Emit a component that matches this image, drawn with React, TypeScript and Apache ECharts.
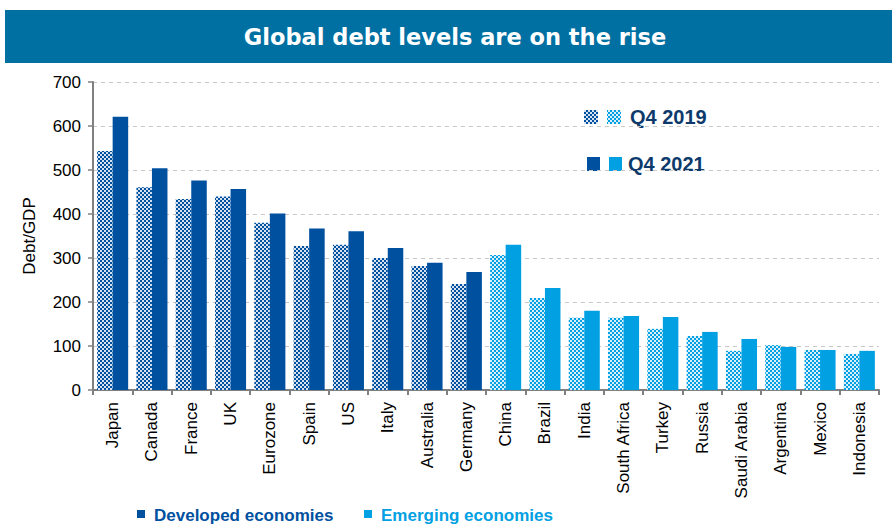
import React, { useEffect, useRef } from "react";
import * as echarts from "echarts";

const categories = [
  "Japan", "Canada", "France", "UK", "Eurozone", "Spain", "US", "Italy", "Australia", "Germany",
  "China", "Brazil", "India", "South Africa", "Turkey", "Russia", "Saudi Arabia", "Argentina", "Mexico", "Indonesia",
];
const developed = ["Japan", "Canada", "France", "UK", "Eurozone", "Spain", "US", "Italy", "Australia", "Germany"];
const q4_2019 = [543, 461, 434, 440, 380, 327, 330, 300, 282, 241, 307, 209, 164, 164, 139, 123, 89, 102, 91, 82];
const q4_2021 = [621, 504, 476, 457, 401, 367, 361, 323, 289, 268, 330, 232, 180, 168, 166, 132, 116, 98, 91, 89];
const yTicks = [0, 100, 200, 300, 400, 500, 600, 700];

const DEV = "#0050A0";
const EMG = "#00A0E2";
const SANS = "'Liberation Sans', Arial, sans-serif";

function makePattern(fg: string, bg: string) {
  const c = document.createElement("canvas");
  c.width = 4;
  c.height = 4;
  const ctx = c.getContext("2d")!;
  ctx.fillStyle = bg;
  ctx.fillRect(0, 0, 4, 4);
  ctx.fillStyle = fg;
  ctx.fillRect(0, 0, 2, 2);
  ctx.fillRect(2, 2, 2, 2);
  return { image: c, repeat: "repeat" } as any;
}

export default function App() {
  const ref = useRef<HTMLDivElement>(null);
  useEffect(() => {
    if (!ref.current) return;
    const chart = echarts.init(ref.current, undefined, { renderer: "svg" });
    const devPat = makePattern(DEV, "#d6e2f0");
    const emgPat = makePattern(EMG, "#d9f0fa");
    const isDev = (c: string) => developed.includes(c);

    chart.setOption({
      animation: false,
      grid: { left: 93, right: 13, top: 82, bottom: 134, containLabel: false },
      xAxis: {
        type: "category",
        data: categories,
        axisLine: { lineStyle: { color: "#808080", width: 2 } },
        axisTick: { show: true, length: 5, lineStyle: { color: "#808080", width: 2 } },
        axisLabel: {
          rotate: 90,
          margin: 12,
          color: "#000",
          fontSize: 17,
          fontFamily: SANS,
          interval: 0,
        },
      },
      yAxis: {
        type: "value",
        min: yTicks[0],
        max: yTicks[yTicks.length - 1],
        interval: 100,
        name: "Debt/GDP",
        nameLocation: "middle",
        nameGap: 55,
        nameTextStyle: { color: "#000", fontSize: 17, fontFamily: SANS },
        axisLine: { show: true, lineStyle: { color: "#808080", width: 2 } },
        axisTick: { show: true, length: 5, lineStyle: { color: "#808080", width: 1.5 } },
        axisLabel: { color: "#000", fontSize: 17, fontFamily: SANS, margin: 12 },
        splitLine: { show: true, lineStyle: { color: "#c8c8c8", type: [4, 4], width: 1 } },
      },
      series: [
        {
          type: "bar",
          name: "Q4 2019",
          barWidth: "39.5%",
          barGap: "0%",
          data: q4_2019.map((v, i) => ({
            value: v,
            itemStyle: { color: isDev(categories[i]) ? devPat : emgPat },
          })),
        },
        {
          type: "bar",
          name: "Q4 2021",
          barWidth: "39.5%",
          barGap: "0%",
          data: q4_2021.map((v, i) => ({
            value: v,
            itemStyle: { color: isDev(categories[i]) ? DEV : EMG },
          })),
        },
      ],
      graphic: [
        { type: "rect", shape: { x: 5, y: 10, width: 887, height: 53 }, style: { fill: "#0070A3" } },
        {
          type: "text",
          x: 455,
          y: 37,
          style: {
            text: "Global debt levels are on the rise",
            fill: "#fff",
            font: "700 22.5px 'DejaVu Sans', sans-serif",
            align: "center",
            verticalAlign: "middle",
          },
        },
        { type: "rect", shape: { x: 584, y: 110, width: 14, height: 14 }, style: { fill: devPat } },
        { type: "rect", shape: { x: 607, y: 110, width: 14, height: 14 }, style: { fill: emgPat } },
        {
          type: "text",
          x: 630,
          y: 117,
          style: { text: "Q4 2019", fill: "#0D3A6B", font: `700 20px ${SANS}`, verticalAlign: "middle" },
        },
        { type: "rect", shape: { x: 587, y: 157, width: 13, height: 14 }, style: { fill: DEV } },
        { type: "rect", shape: { x: 609, y: 157, width: 13, height: 14 }, style: { fill: EMG } },
        {
          type: "text",
          x: 628,
          y: 164,
          style: { text: "Q4 2021", fill: "#0D3A6B", font: `700 20px ${SANS}`, verticalAlign: "middle" },
        },
        { type: "rect", shape: { x: 137, y: 510, width: 8, height: 8 }, style: { fill: DEV } },
        {
          type: "text",
          x: 154,
          y: 515,
          style: { text: "Developed economies", fill: DEV, font: `700 17px ${SANS}`, verticalAlign: "middle" },
        },
        { type: "rect", shape: { x: 364, y: 510, width: 8, height: 8 }, style: { fill: EMG } },
        {
          type: "text",
          x: 381,
          y: 515,
          style: { text: "Emerging economies", fill: EMG, font: `700 17px ${SANS}`, verticalAlign: "middle" },
        },
      ],
    });
    return () => chart.dispose();
  }, []);
  return <div ref={ref} style={{ width: 892, height: 524, position: "absolute", left: 0, top: 0 }} />;
}
